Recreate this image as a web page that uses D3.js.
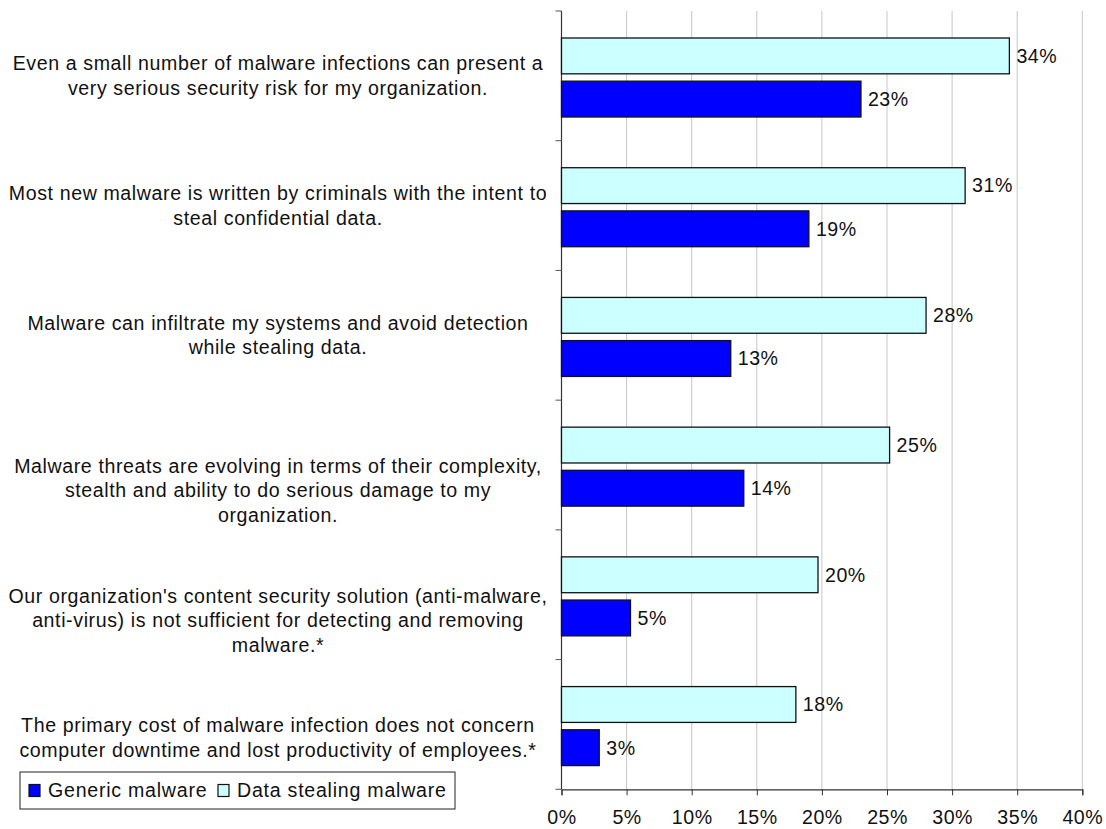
<!DOCTYPE html>
<html>
<head>
    <title>Malware perceptions bar chart</title>
    <script src="https://d3js.org/d3.v7.min.js"></script>
    <style>
        body { margin: 0; background: #fff; }
        text { font-family: "Liberation Sans", Arial, sans-serif; fill: #111; }
    </style>
</head>
<body>
    <div id="chart"></div>

    <script>
        // Category labels (already wrapped the way the picture shows them)
        const categories = [
          ["Even a small number of malware infections can present a", "very serious security risk for my organization."],
          ["Most new malware is written by criminals with the intent to", "steal confidential data."],
          ["Malware can infiltrate my systems and avoid detection", "while stealing data."],
          ["Malware threats are evolving in terms of their complexity,", "stealth and ability to do serious damage to my", "organization."],
          ["Our organization's content security solution (anti-malware,", "anti-virus) is not sufficient for detecting and removing", "malware.*"],
          ["The primary cost of malware infection does not concern", "computer downtime and lost productivity of employees.*"]
        ];

        // series values in percent
        const dataStealing = [34.4, 31.0, 28.0, 25.2, 19.7, 18.0];
        const generic      = [23.0, 19.0, 13.0, 14.0, 5.3, 2.9];
        const valueLabels  = {
          stealing: ["34%", "31%", "28%", "25%", "20%", "18%"],
          generic:  ["23%", "19%", "13%", "14%", "5%", "3%"]
        };
        const xTicks = [0, 5, 10, 15, 20, 25, 30, 35, 40];

        const W = 1106, H = 829;
        const fontSize = "19.6px";

        const svg = d3.select("#chart")
          .append("svg")
            .attr("width", W)
            .attr("height", H);

        const x = d3.scaleLinear()
          .domain([0, 40])
          .range([561.5, 1082.3]);

        const y = d3.scaleBand()
          .domain(d3.range(categories.length))
          .range([11, 789.3])
          .padding(0);

        // inner scale for the two bars in each category
        const inner = d3.scaleBand()
          .domain(["stealing", "generic"])
          .range([27, 106])
          .paddingInner(0.17)
          .paddingOuter(0);

        // vertical gridlines
        svg.append("g")
          .selectAll("line")
          .data(xTicks.slice(1))
          .enter()
          .append("line")
            .attr("x1", d => x(d))
            .attr("x2", d => x(d))
            .attr("y1", y.range()[0])
            .attr("y2", y.range()[1])
            .style("stroke", "#c6c6c6")
            .style("stroke-width", 1);

        // bottom axis
        const xAxis = svg.append("g")
          .attr("transform", `translate(0, ${y.range()[1]})`)
          .call(d3.axisBottom(x)
            .tickValues(xTicks)
            .tickSize(6)
            .tickFormat(d => d + "%"));
        xAxis.select(".domain").style("stroke", "#333").style("stroke-width", 1.2);
        xAxis.selectAll(".tick line").style("stroke", "#333");
        xAxis.selectAll(".tick text")
          .attr("y", 21)
          .style("font-size", fontSize)
          .style("letter-spacing", "0.5px")
          .style("font-family", "'Liberation Sans', Arial, sans-serif")
          .style("fill", "#111");

        // left axis: plain line with ticks at category boundaries
        const bounds = d3.range(categories.length + 1).map(i => y.range()[0] + i * y.step());
        svg.append("line")
          .attr("x1", x(0)).attr("x2", x(0))
          .attr("y1", y.range()[0]).attr("y2", y.range()[1])
          .style("stroke", "#333").style("stroke-width", 1.2);
        svg.append("g")
          .selectAll("line")
          .data(bounds)
          .enter()
          .append("line")
            .attr("x1", x(0) - 6)
            .attr("x2", x(0))
            .attr("y1", d => d)
            .attr("y2", d => d)
            .style("stroke", "#555");

        // bars
        const series = [
          { key: "stealing", values: dataStealing, color: "#ccffff" },
          { key: "generic",  values: generic,      color: "#0000ff" }
        ];

        series.forEach(function(s) {
          const g = svg.append("g");
          g.selectAll("rect")
            .data(s.values)
            .enter()
            .append("rect")
              .attr("x", x(0))
              .attr("y", (d, i) => y(i) + inner(s.key))
              .attr("width", d => x(d) - x(0))
              .attr("height", inner.bandwidth())
              .style("fill", s.color)
              .style("stroke", "#111")
              .style("stroke-width", 1.3);

          g.selectAll("text")
            .data(s.values)
            .enter()
            .append("text")
              .attr("x", d => x(d) + 7)
              .attr("y", (d, i) => y(i) + inner(s.key) + inner.bandwidth() / 2)
              .attr("dy", "0.35em")
              .style("font-size", fontSize)
              .style("letter-spacing", "0.5px")
              .text((d, i) => valueLabels[s.key][i]);
        });

        // category labels, centred to the left of the axis
        const lineH = 24.5;
        categories.forEach(function(lines, i) {
          const mid = y(i) + y.bandwidth() / 2;
          // upper three labels are centred on the band, lower three start at its middle
          const first = i < 3 ? mid - (lines.length - 1) * lineH / 2 : mid + 1;
          const t = svg.append("text")
            .attr("text-anchor", "middle")
            .style("font-size", fontSize)
            .style("letter-spacing", "0.6px");
          lines.forEach(function(line, j) {
            t.append("tspan")
              .attr("x", 278)
              .attr("y", first + j * lineH)
              .attr("dy", "0.35em")
              .text(line);
          });
        });

        // legend
        const legend = svg.append("g").attr("transform", "translate(20, 772)");
        legend.append("rect")
          .attr("width", 435).attr("height", 37)
          .style("fill", "#fff").style("stroke", "#222").style("stroke-width", 1);

        const legendItems = [
          { label: "Generic malware", color: "#0000ff", x: 9 },
          { label: "Data stealing malware", color: "#ccffff", x: 198 }
        ];
        legendItems.forEach(function(d) {
          legend.append("rect")
            .attr("x", d.x).attr("y", 12.5)
            .attr("width", 11).attr("height", 12)
            .style("fill", d.color).style("stroke", "#111").style("stroke-width", 1.2);
          legend.append("text")
            .attr("x", d.x + 19).attr("y", 18.5)
            .attr("dy", "0.35em")
            .style("font-size", fontSize)
            .style("letter-spacing", "0.75px")
            .text(d.label);
        });
    </script>
</body>
</html>
